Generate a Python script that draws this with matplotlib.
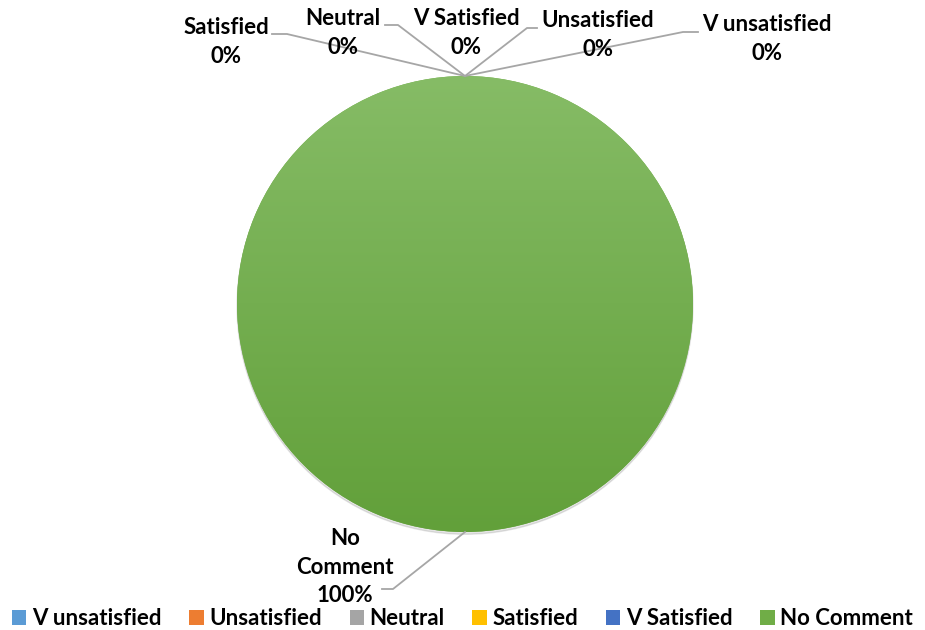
import matplotlib.pyplot as plt
import numpy as np

categories = ["V unsatisfied", "Unsatisfied", "Neutral", "Satisfied", "V Satisfied", "No Comment"]
values = [0, 0, 0, 0, 0, 100]
colors = ["#5B9BD5", "#ED7D31", "#A5A5A5", "#FFC000", "#4472C4", "#70AD47"]

W, H = 925, 630
cx, cy, R = 465, 304, 228  # pie centre / radius in pixels


def px(x, y):
    # pixel (from top-left) -> data units (pie radius = 1)
    return (x - cx) / R, (cy - y) / R


# label text centre + elbow (line end, line bend) in pixels
label_pos = {
    "V unsatisfied": ((767, 39), (698, 32), (683, 32)),
    "Unsatisfied": ((598, 35), (537, 28), (527, 28)),
    "Neutral": ((343, 33), (385, 25), (398, 25)),
    "Satisfied": ((226, 42), (272, 34), (287, 34)),
    "V Satisfied": ((466, 33), None, None),
    "No Comment": ((345, 567), (382, 589), (393, 589)),
}

plt.rcParams['font.family'] = ['Lato', 'DejaVu Sans']
fig = plt.figure(figsize=(W / 100, H / 100), dpi=100)
ax = fig.add_axes([0, 0, 1, 1])
ax.axis('off')

wedges, _ = ax.pie(values, colors=colors, startangle=90, counterclock=False,
                   radius=1, center=(0, 0), wedgeprops=dict(linewidth=0))
ax.set_xlim(-cx / R, (W - cx) / R)
ax.set_ylim(-(H - cy) / R, cy / R)
ax.set_aspect('equal')

# soft shadow under the pie
sh = plt.Circle((0.0, -0.01), 1.0, color="#000000", alpha=0.10, zorder=0)
ax.add_patch(sh)

# vertical gradient on the big slice
big = wedges[-1]
grad = np.linspace(0, 1, 256).reshape(-1, 1)
top = np.array([0x86, 0xBC, 0x66]) / 255
bot = np.array([0x62, 0xA0, 0x3A]) / 255
img = top * (1 - grad[..., None]) + bot * grad[..., None]
im = ax.imshow(img, extent=(-1, 1, -1, 1), origin='upper', zorder=big.get_zorder() + 0.1)
im.set_clip_path(big)

for w, name, v in zip(wedges, categories, values):
    ang = np.deg2rad((w.theta1 + w.theta2) / 2)
    ex, ey = np.cos(ang), np.sin(ang)
    (tx, ty), end, bend = label_pos[name]
    if end is not None:
        x0, y0 = px(*end)
        x1, y1 = px(*bend)
        ax.plot([x0, x1, ex], [y0, y1, ey], color="#A6A6A6", lw=1.3, zorder=5)
    txt = name.replace(" ", "\n") if name == "No Comment" else name
    ax.text(*px(tx, ty), f"{txt}\n{v:.0f}%", ha='center', va='center',
            fontsize=16, fontweight='bold', linespacing=1.42, color="#000000", zorder=6)

fig.legend(wedges, categories, loc='lower center', bbox_to_anchor=(0.5, -0.03), ncol=6,
           frameon=False, prop=dict(size=16, weight='bold'), handlelength=0.65,
           handleheight=0.65, handletextpad=0.25, columnspacing=1.25)

fig.savefig("out.png", dpi=100)
